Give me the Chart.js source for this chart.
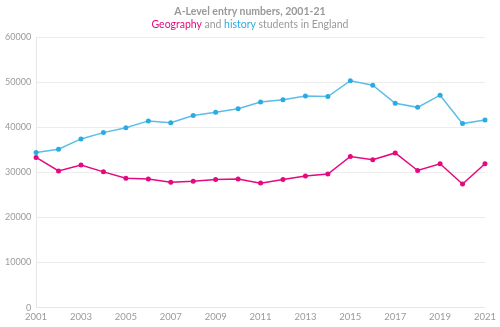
<!DOCTYPE html>
<html>
<head>
<meta charset="utf-8">
<script src="https://cdn.jsdelivr.net/npm/chart.js@4"></script>
<style>
  html, body { margin: 0; padding: 0; background: #ffffff; }
  #wrap { position: relative; width: 500px; height: 327px; }
  #titles {
    position: absolute; left: 0; top: 5px; width: 500px;
    text-align: center; font-family: Lato, "Open Sans", sans-serif; color: #999999;
  }
  #titles .main { font-size: 10.5px; font-weight: bold; line-height: 13px; }
  #titles .sub { font-size: 10.5px; line-height: 13px; }
  .geo { color: #E5097F; }
  .his { color: #2AACE2; }
</style>
</head>
<body>
<div id="wrap">
  <canvas id="chart" width="500" height="327"></canvas>
  <div id="titles">
    <div class="main">A-Level entry numbers, 2001-21</div>
    <div class="sub"><span class="geo">Geography</span> and <span class="his">history</span> students in England</div>
  </div>
</div>
<script>
const years = [
  "2001", "2002", "2003", "2004", "2005", "2006", "2007", "2008", "2009", "2010", "2011",
  "2012", "2013", "2014", "2015", "2016", "2017", "2018", "2019", "2020", "2021"
];

const historyEntries = [
  34400, 35100, 37400, 38800, 39900, 41400, 41000, 42600, 43300, 44100, 45600,
  46100, 46900, 46800, 50300, 49300, 45300, 44400, 47100, 40800, 41600
];

const geographyEntries = [
  33300, 30300, 31600, 30100, 28700, 28500, 27800, 28000, 28400, 28500, 27600,
  28400, 29200, 29600, 33500, 32800, 34300, 30400, 31900, 27400, 31900
];

const yTicks = [0, 10000, 20000, 30000, 40000, 50000, 60000];

const pink = "#E5097F";
const blue = "#2AACE2";
const tickColor = "#9a9a9a";

new Chart(document.getElementById("chart"), {
  type: "line",
  data: {
    labels: years,
    datasets: [
      {
        label: "History",
        data: historyEntries,
        borderColor: "#5BBDE8",
        backgroundColor: blue,
        pointBackgroundColor: blue,
        pointBorderColor: blue,
        borderWidth: 1.5,
        pointRadius: 2.5,
        pointBorderWidth: 0,
        tension: 0,
      },
      {
        label: "Geography",
        data: geographyEntries,
        borderColor: pink,
        backgroundColor: pink,
        pointBackgroundColor: pink,
        pointBorderColor: pink,
        borderWidth: 1.5,
        pointRadius: 2.5,
        pointBorderWidth: 0,
        tension: 0,
      },
    ],
  },
  options: {
    responsive: false,
    animation: false,
    layout: {
      padding: { top: 37, right: 13, left: 0, bottom: 0 },
    },
    plugins: {
      legend: { display: false },
      title: { display: false },
      tooltip: { enabled: false },
    },
    scales: {
      x: {
        offset: false,
        grid: { display: false, drawTicks: false },
        border: { color: "#e6e6e6" },
        ticks: {
          color: tickColor,
          font: { family: "Lato", size: 9.5 },
          autoSkip: false,
          maxRotation: 0,
          padding: 4,
          callback: function (value, index) {
            return index % 2 === 0 ? years[index] : "";
          },
        },
      },
      y: {
        min: 0,
        max: 60000,
        afterBuildTicks: function (axis) {
          axis.ticks = yTicks.map(function (v) {
            return { value: v };
          });
        },
        grid: { color: "#ececec", drawTicks: false },
        border: { color: "#e6e6e6" },
        ticks: {
          color: tickColor,
          font: { family: "Lato", size: 9 },
          padding: 5,
          callback: function (value) {
            return String(value);
          },
        },
      },
    },
  },
});
</script>
</body>
</html>
